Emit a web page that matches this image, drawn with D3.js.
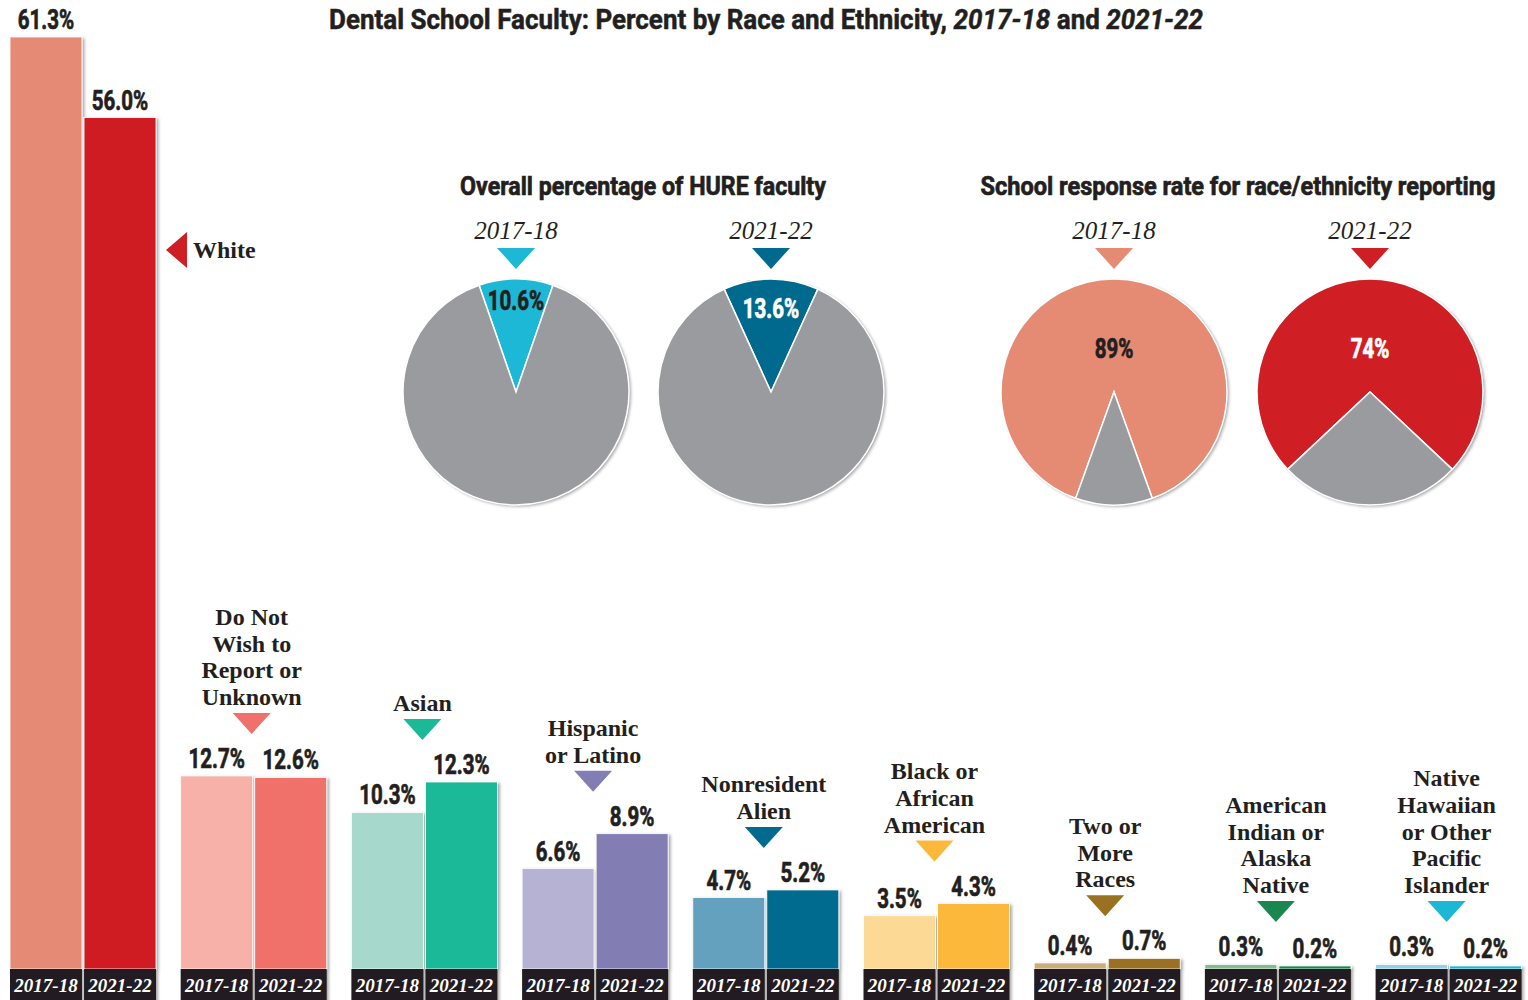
<!DOCTYPE html>
<html>
<head>
<meta charset="utf-8">
<script src="https://cdn.jsdelivr.net/npm/d3@7"></script>
<style>
  body { margin: 0; background: #fff; }
  .cond { font-family: "Roboto", "Liberation Sans", sans-serif; font-weight: bold; }
  .serif { font-family: "Liberation Serif", "DejaVu Serif", serif; }
</style>
</head>
<body>
<div id="chart"></div>
<script>
// data
const categories = [
    ['White'],
    ['Do Not', 'Wish to', 'Report or', 'Unknown'],
    ['Asian'],
    ['Hispanic', 'or Latino'],
    ['Nonresident', 'Alien'],
    ['Black or', 'African', 'American'],
    ['Two or', 'More', 'Races'],
    ['American', 'Indian or', 'Alaska', 'Native'],
    ['Native', 'Hawaiian', 'or Other', 'Pacific', 'Islander']
];
const years = ['2017-18', '2021-22'];
const pct1718 = [61.3, 12.7, 10.3, 6.6, 4.7, 3.5, 0.4, 0.3, 0.3];
const pct2122 = [56.0, 12.6, 12.3, 8.9, 5.2, 4.3, 0.7, 0.2, 0.2];
const colors1718 = ['#e58b74', '#f7b1a8', '#a6d9cb', '#b5b2d4', '#64a1bf', '#fcd994', '#c9ad7a', '#86b98f', '#93d2e2'];
const colors2122 = ['#ce1f24', '#f0706b', '#1cb998', '#827db3', '#016b8f', '#fbb83a', '#9a7120', '#1c8650', '#1cb7d5'];

const hurePct = [10.6, 13.6];
const hureColors = ['#1cb8d5', '#006a8e'];
const responsePct = [89, 74];
const responseColors = ['#e58a73', '#cf1f24'];
const pieGray = '#9a9b9f';

// squeeze bold sans text sideways so it reads like a condensed black face
const squeeze = 0.76;
function condText(parent, x, y, txt, size, opts = {}) {
    const fill = opts.fill || '#231f20';
    const t = parent.append('text')
        .attr('class', 'cond')
        .attr('x', 0)
        .attr('y', 0)
        .attr('text-anchor', opts.anchor || 'middle')
        .attr('font-size', size)
        .attr('fill', fill)
        .attr('stroke', fill)
        .attr('stroke-width', opts.heavy === false ? 0 : 0.7)
        .text(txt);
    let k = squeeze;
    if (opts.width) k = opts.width / t.node().getComputedTextLength();
    t.attr('transform', `translate(${x},${y}) scale(${k},1)`);
    return t;
}

async function main() {
    // set dimensions
    const w = 1528;
    const h = 1000;
    const baseY = 969;

    const svg = d3.select('#chart')
        .append('svg')
        .attr('width', w)
        .attr('height', h);

    // drop shadow
    const defs = svg.append('defs');
    const f = defs.append('filter').attr('id', 'shadow')
        .attr('x', '-10%').attr('y', '-10%').attr('width', '130%').attr('height', '130%');
    f.append('feDropShadow')
        .attr('dx', 2).attr('dy', 1.5)
        .attr('stdDeviation', 1.5)
        .attr('flood-color', '#000')
        .attr('flood-opacity', 0.35);

    // title, laid out piece by piece
    const titleParts = [
        ['Dental School Faculty: Percent by Race and Ethnicity,\u00a0', false],
        ['2017-18', true],
        ['\u00a0and\u00a0', false],
        ['2021-22', true]
    ];
    const titleG = svg.append('g');
    const pieces = titleParts.map(([s, it]) => {
        const t = titleG.append('text')
            .attr('class', 'cond')
            .attr('font-size', 27)
            .attr('fill', '#231f20')
            .attr('stroke', '#231f20')
            .attr('stroke-width', 0.5)
            .attr('font-style', it ? 'italic' : 'normal')
            .text(s);
        return { t, len: t.node().getComputedTextLength() };
    });
    const totalLen = d3.sum(pieces, p => p.len);
    const tk = 874 / totalLen;
    let tx = 329;
    pieces.forEach(p => {
        p.t.attr('transform', `translate(${tx},29) scale(${tk},1)`);
        tx += p.len * tk;
    });

    // scales
    const idx = d3.range(categories.length);
    const x_scale = d3.scaleBand()
        .domain(idx)
        .range([10, 1521.6])
        .paddingInner(0.1447)
        .paddingOuter(0);

    const x_sub = d3.scaleBand()
        .domain(years)
        .range([0, x_scale.bandwidth()])
        .paddingInner(0.028);

    const y_scale = d3.scaleLinear()
        .domain([0, 61.3])
        .range([baseY, 37]);

    const rows = [];
    idx.forEach(i => {
        rows.push({ i, year: years[0], v: pct1718[i], c: colors1718[i] });
        rows.push({ i, year: years[1], v: pct2122[i], c: colors2122[i] });
    });

    const bx = d => x_scale(d.i) + x_sub(d.year);

    // bars + label boxes
    const barG = svg.append('g').attr('filter', 'url(#shadow)');
    barG.selectAll('rect.bar')
        .data(rows)
        .enter()
        .append('rect')
        .attr('class', 'bar')
        .attr('x', bx)
        .attr('y', d => y_scale(d.v))
        .attr('width', x_sub.bandwidth())
        .attr('height', d => baseY - y_scale(d.v))
        .attr('fill', d => d.c)
        .attr('stroke', '#fff')
        .attr('stroke-width', 0.8);

    barG.selectAll('rect.box')
        .data(rows)
        .enter()
        .append('rect')
        .attr('class', 'box')
        .attr('x', bx)
        .attr('y', baseY)
        .attr('width', x_sub.bandwidth())
        .attr('height', h - baseY + 2)
        .attr('fill', '#231f20');

    svg.selectAll('text.yr')
        .data(rows)
        .enter()
        .append('text')
        .attr('class', 'yr serif')
        .attr('x', d => bx(d) + x_sub.bandwidth() / 2)
        .attr('y', 992)
        .attr('text-anchor', 'middle')
        .attr('font-size', 19)
        .attr('font-style', 'italic')
        .attr('font-weight', 'bold')
        .attr('fill', '#fff')
        .text(d => d.year);

    // value labels
    const valG = svg.append('g');
    rows.forEach(d => {
        condText(valG, bx(d) + x_sub.bandwidth() / 2, y_scale(d.v) - 8, d.v.toFixed(1) + '%', 27);
    });

    // category labels with markers
    idx.forEach(i => {
        const col = colors2122[i];
        if (i === 0) {
            const x0 = x_scale(0) + x_scale.bandwidth() + 10;
            const yc = 250;
            svg.append('path')
                .attr('d', `M${x0},${yc} L${x0 + 21},${yc - 18} L${x0 + 21},${yc + 18} Z`)
                .attr('fill', col);
            svg.append('text')
                .attr('class', 'serif')
                .attr('x', x0 + 27)
                .attr('y', yc + 8)
                .attr('font-size', 24)
                .attr('font-weight', 'bold')
                .attr('fill', '#231f20')
                .text(categories[i][0]);
            return;
        }
        const cx = x_scale(i) + x_scale.bandwidth() / 2 - 2;
        const topY = y_scale(Math.max(pct1718[i], pct2122[i]));
        const triBottom = Math.min(topY - 42, 922);
        const triTop = triBottom - 21;
        svg.append('path')
            .attr('d', `M${cx - 19},${triTop} L${cx + 19},${triTop} L${cx},${triBottom} Z`)
            .attr('fill', col);
        const lines = categories[i];
        const lh = 26.7;
        const lastBase = triTop - 8;
        svg.append('g').selectAll('text')
            .data(lines)
            .enter()
            .append('text')
            .attr('class', 'serif')
            .attr('x', cx)
            .attr('y', (d, k) => lastBase - (lines.length - 1 - k) * lh)
            .attr('text-anchor', 'middle')
            .attr('font-size', 24)
            .attr('font-weight', 'bold')
            .attr('fill', '#231f20')
            .text(d => d);
    });

    // pies
    const r = 113;
    const pieCy = 392;
    const arc = d3.arc().innerRadius(0).outerRadius(r);

    function drawPie(cx, p, col, labelR, labelColor) {
        const pie = d3.pie()
            .sort(null)
            .value(d => d)
            .startAngle(-Math.PI * p / 100)
            .endAngle(-Math.PI * p / 100 + 2 * Math.PI);
        const g = svg.append('g').attr('transform', `translate(${cx},${pieCy})`);
        g.append('circle').attr('r', r).attr('fill', '#fff').attr('filter', 'url(#shadow)');
        g.selectAll('path')
            .data(pie([p, 100 - p]))
            .enter()
            .append('path')
            .attr('d', arc)
            .attr('fill', (d, k) => k === 0 ? col : pieGray)
            .attr('stroke', '#fff')
            .attr('stroke-width', 1.5);
        condText(g, 0, -labelR + 10, p % 1 === 0 ? p + '%' : p.toFixed(1) + '%', 27, { fill: labelColor });
    }

    function pieHeader(cx, year, col) {
        svg.append('text')
            .attr('class', 'serif')
            .attr('x', cx)
            .attr('y', 239)
            .attr('text-anchor', 'middle')
            .attr('font-size', 25)
            .attr('font-style', 'italic')
            .attr('fill', '#231f20')
            .text(year);
        svg.append('path')
            .attr('d', `M${cx - 19},248 L${cx + 19},248 L${cx},269 Z`)
            .attr('fill', col);
    }

    const hureX = [516, 771];
    const respX = [1114, 1370];

    condText(svg, 643, 195, 'Overall percentage of HURE faculty', 26, { width: 366 });
    condText(svg, 1238, 195, 'School response rate for race/ethnicity reporting', 26, { width: 515 });

    hureX.forEach((cx, k) => {
        pieHeader(cx, years[k], hureColors[k]);
        drawPie(cx, hurePct[k], hureColors[k], k === 0 ? 92 : 84, k === 0 ? '#231f20' : '#fff');
    });
    respX.forEach((cx, k) => {
        pieHeader(cx, years[k], responseColors[k]);
        drawPie(cx, responsePct[k], responseColors[k], 44, k === 0 ? '#231f20' : '#fff');
    });
}

main();
</script>
</body>
</html>
